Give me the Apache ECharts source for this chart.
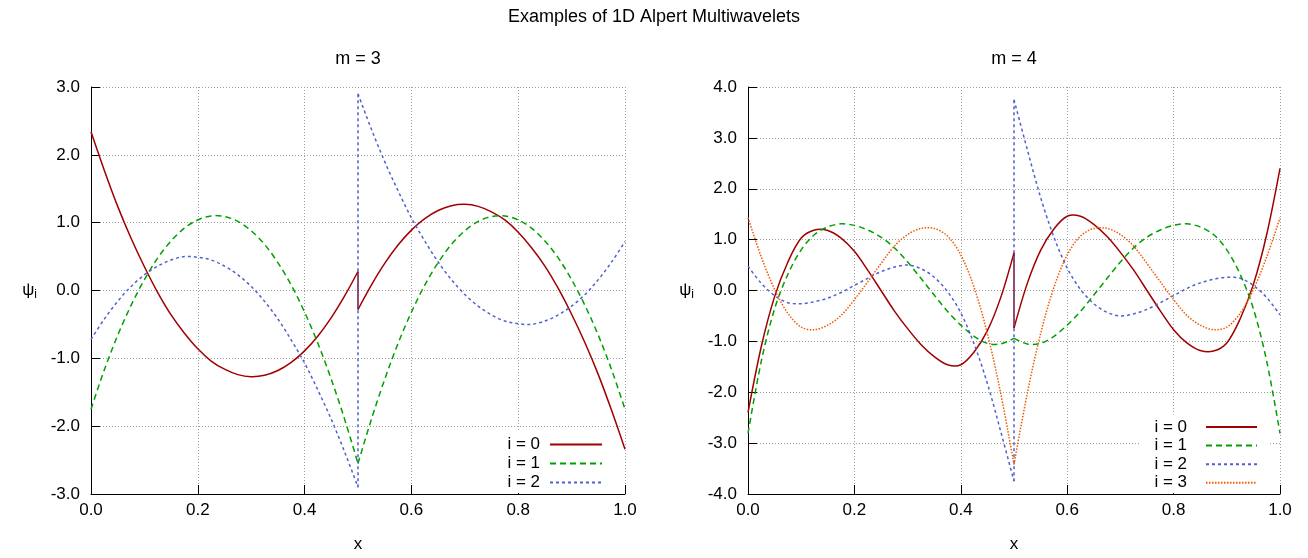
<!DOCTYPE html>
<html><head><meta charset="utf-8">
<script src="https://cdn.jsdelivr.net/npm/echarts@6/dist/echarts.min.js"></script>
<style>html,body{margin:0;padding:0;background:#fff}#c{width:1308px;height:558px}</style>
</head><body><div id="c"></div>
<script>
// sample positions (0.5 appears twice: left and right limit of the jump)
const xs = [0,0.025,0.05,0.075,0.1,0.125,0.15,0.175,0.2,0.225,0.25,0.275,0.3,0.325,0.35,0.375,0.4,0.425,0.45,0.475,0.5,
            0.5,0.525,0.55,0.575,0.6,0.625,0.65,0.675,0.7,0.725,0.75,0.775,0.8,0.825,0.85,0.875,0.9,0.925,0.95,0.975,1.0];

// m = 3
const m3_i0 = [2.34,1.77,1.24,0.77,0.35,-0.03,-0.36,-0.63,-0.86,-1.04,-1.16,-1.24,-1.27,-1.25,-1.18,-1.06,-0.89,-0.67,-0.40,-0.08,0.28,
               -0.28,0.08,0.40,0.67,0.89,1.06,1.18,1.25,1.27,1.24,1.16,1.04,0.86,0.63,0.36,0.03,-0.35,-0.77,-1.24,-1.77,-2.34];
const m3_i1 = [-1.75,-1.17,-0.66,-0.22,0.16,0.48,0.73,0.92,1.04,1.10,1.09,1.02,0.88,0.68,0.41,0.08,-0.32,-0.78,-1.31,-1.90,-2.55,
               -2.55,-1.90,-1.31,-0.78,-0.32,0.08,0.41,0.68,0.88,1.02,1.09,1.10,1.04,0.92,0.73,0.48,0.16,-0.22,-0.66,-1.17,-1.75];
const m3_i2 = [-0.72,-0.42,-0.16,0.06,0.23,0.36,0.45,0.50,0.49,0.45,0.36,0.23,0.06,-0.16,-0.42,-0.73,-1.07,-1.47,-1.90,-2.38,-2.90,
               2.90,2.38,1.90,1.47,1.07,0.73,0.42,0.16,-0.06,-0.23,-0.36,-0.45,-0.49,-0.50,-0.45,-0.36,-0.23,-0.06,0.16,0.42,0.72];

// m = 4
const m4_i0 = [-2.40,-1.10,-0.12,0.56,1.03,1.19,1.18,1.03,0.77,0.40,0.00,-0.40,-0.75,-1.06,-1.30,-1.46,-1.46,-1.21,-0.79,-0.14,0.74,
               -0.74,0.14,0.79,1.21,1.46,1.46,1.30,1.06,0.75,0.40,0.00,-0.40,-0.77,-1.03,-1.18,-1.19,-1.03,-0.56,0.12,1.10,2.40];
const m4_i1 = [-2.81,-1.39,-0.36,0.32,0.80,1.10,1.25,1.31,1.28,1.19,1.05,0.84,0.56,0.24,-0.09,-0.41,-0.68,-0.90,-1.04,-1.05,-0.94,
               -0.94,-1.05,-1.04,-0.90,-0.68,-0.41,-0.09,0.24,0.56,0.84,1.05,1.19,1.28,1.31,1.25,1.10,0.80,0.32,-0.36,-1.39,-2.81];
const m4_i2 = [0.48,0.14,-0.10,-0.24,-0.26,-0.22,-0.15,-0.04,0.10,0.24,0.37,0.46,0.50,0.43,0.26,-0.02,-0.44,-1.05,-1.83,-2.77,-3.75,
               3.75,2.77,1.83,1.05,0.44,0.02,-0.26,-0.43,-0.50,-0.46,-0.37,-0.24,-0.10,0.04,0.15,0.22,0.26,0.24,0.10,-0.14,-0.48];
const m4_i3 = [1.43,0.66,0.02,-0.45,-0.72,-0.77,-0.68,-0.49,-0.18,0.17,0.53,0.87,1.10,1.22,1.22,1.07,0.70,0.06,-0.85,-2.02,-3.42,
               -3.42,-2.02,-0.85,0.06,0.70,1.07,1.22,1.22,1.10,0.87,0.53,0.17,-0.18,-0.49,-0.68,-0.77,-0.72,-0.45,0.02,0.66,1.43];

const seriesNames = ['i = 0','i = 1','i = 2','i = 3'];
const xTicks = {min:0, max:1, interval:0.2};
const panelTitles = ['m = 3','m = 4'];
const mainTitle = 'Examples of 1D Alpert Multiwavelets';

const FONT = 'Liberation Sans, Arial, sans-serif';
const FS = 17;
const styles = [
  {color:'#a00000', type:'solid', dash:null},
  {color:'#00a000', type:[6,4], dash:[6,4]},
  {color:'#5060d0', type:[3,3], dash:[3,3]},
  {color:'#f25900', type:[1.5,1.5], dash:[1.5,1.5]}
];
const HALF = 21;
const LW = 1.5;

// legend-only line series (no data), one per style
function legendSeries(idx){
  return {type:'line', name:seriesNames[idx], xAxisIndex:0, yAxisIndex:0, data:[],
    showSymbol:false, symbol:'none', animation:false,
    lineStyle:{color:styles[idx].color, type:styles[idx].type, width:LW},
    itemStyle:{color:styles[idx].color}};
}
// curve drawn through the axes' scales: smooth left half, straight joint at x = 0.5, smooth right half
function curve(idx, ys, axis, tag){
  return {type:'custom', name:tag, xAxisIndex:axis, yAxisIndex:axis, coordinateSystem:'cartesian2d',
    data:[[xs[0], ys[0]]], clip:false, animation:false, silent:true, z:3,
    renderItem:function(params, api){
      const L = xs.slice(0, HALF).map((x,k)=>api.coord([x, ys[k]]));
      const R = xs.slice(HALF).map((x,k)=>api.coord([x, ys[HALF + k]]));
      const st = {stroke:styles[idx].color, lineWidth:LW, fill:null, lineDash:styles[idx].dash};
      return {type:'group', children:[
        {type:'polyline', shape:{points:L, smooth:0.33}, style:st},
        {type:'polyline', shape:{points:[L[L.length-1], R[0]]}, style:st},
        {type:'polyline', shape:{points:R, smooth:0.33}, style:st}
      ]};
    }};
}
const gridLine = {show:true, lineStyle:{color:'#a0a0a0', type:[1,2], width:1}};
function xAx(gi){
  return {type:'value', gridIndex:gi, min:xTicks.min, max:xTicks.max, interval:xTicks.interval,
    name:'x', nameLocation:'middle', nameGap:42, nameTextStyle:{fontSize:FS, color:'#000', fontFamily:FONT},
    axisLine:{show:true, onZero:false, lineStyle:{color:'#000', width:1}},
    axisTick:{show:true, inside:true, length:9, lineStyle:{color:'#000'}},
    axisLabel:{fontSize:FS, color:'#000', fontFamily:FONT, margin:8, formatter:v=>v.toFixed(1)},
    splitLine:gridLine};
}
function yAx(gi, lim){
  return {type:'value', gridIndex:gi, min:-lim, max:lim, interval:1,
    name:'{p|ψ}{s|i}', nameLocation:'middle', nameRotate:0, nameGap:54,
    nameTextStyle:{color:'#000', fontFamily:FONT, rich:{p:{fontSize:FS, fontFamily:FONT, color:'#000'}, s:{fontSize:12, fontFamily:FONT, color:'#000', padding:[9,0,0,0]}}},
    axisLine:{show:true, onZero:false, lineStyle:{color:'#000', width:1}},
    axisTick:{show:true, inside:true, length:9, lineStyle:{color:'#000'}},
    axisLabel:{fontSize:FS, color:'#000', fontFamily:FONT, margin:11, formatter:v=>v.toFixed(1)},
    splitLine:gridLine};
}
const legendCommon = {orient:'vertical', align:'right', itemHeight:14, selectedMode:false,
  backgroundColor:'#fff', itemStyle:{opacity:0, borderWidth:0}};

const option = {
  backgroundColor:'#fff',
  animation:false,
  title:[
    {text:mainTitle, left:'center', top:8, padding:0, textStyle:{fontSize:18, fontWeight:'normal', color:'#000', fontFamily:FONT}},
    {text:panelTitles[0], left:358, textAlign:'center', top:50, padding:0, textStyle:{fontSize:18, fontWeight:'normal', color:'#000', fontFamily:FONT}},
    {text:panelTitles[1], left:1014, textAlign:'center', top:50, padding:0, textStyle:{fontSize:18, fontWeight:'normal', color:'#000', fontFamily:FONT}}
  ],
  grid:[
    {left:91, right:683, top:87, bottom:59},
    {left:748, right:28, top:87, bottom:59}
  ],
  legend:[
    Object.assign({}, legendCommon, {data:seriesNames.slice(0,3), right:695, top:432, padding:[4,10,2,12],
      itemWidth:52, itemGap:2, textStyle:{fontSize:FS, color:'#000', fontFamily:FONT, padding:[0,5,0,0]}}),
    Object.assign({}, legendCommon, {data:seriesNames.slice(0,4), right:39, top:414.5, padding:[4,11,2,15],
      itemWidth:51, itemGap:1.6, textStyle:{fontSize:FS, color:'#000', fontFamily:FONT, padding:[0,14,0,0]}})
  ],
  xAxis:[xAx(0), xAx(1)],
  yAxis:[yAx(0,3), yAx(1,4)],
  series:[
    legendSeries(0), legendSeries(1), legendSeries(2), legendSeries(3),
    curve(0, m3_i0, 0, 'm3 i0'), curve(1, m3_i1, 0, 'm3 i1'), curve(2, m3_i2, 0, 'm3 i2'),
    curve(0, m4_i0, 1, 'm4 i0'), curve(1, m4_i1, 1, 'm4 i1'), curve(2, m4_i2, 1, 'm4 i2'), curve(3, m4_i3, 1, 'm4 i3')
  ]
};
const chart = echarts.init(document.getElementById('c'), null, {renderer:'canvas'});
chart.setOption(option);
</script>
</body></html>
